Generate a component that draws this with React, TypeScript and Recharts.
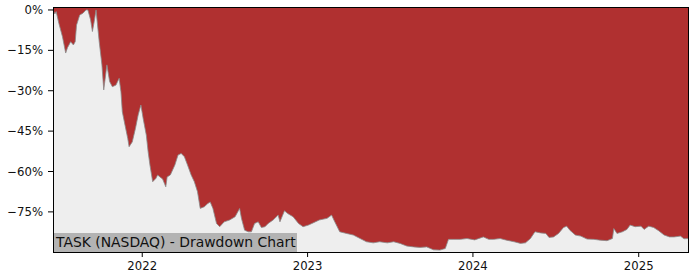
import React from 'react';
import { AreaChart, Area, XAxis, YAxis, CartesianGrid } from 'recharts';

// TASK (NASDAQ) drawdown
const dates = [
  '2021-06-18', '2021-06-22', '2021-06-25', '2021-07-01', '2021-07-09', '2021-07-16', '2021-07-20', '2021-07-27',
  '2021-08-02', '2021-08-06', '2021-08-09', '2021-08-16', '2021-08-23', '2021-08-30', '2021-09-03', '2021-09-09',
  '2021-09-13', '2021-09-17', '2021-09-21', '2021-09-28', '2021-10-04', '2021-10-08', '2021-10-13', '2021-10-15',
  '2021-10-21', '2021-10-27', '2021-11-04', '2021-11-11', '2021-11-15', '2021-11-18', '2021-11-24', '2021-11-30',
  '2021-12-03', '2021-12-10', '2021-12-17', '2021-12-23', '2021-12-29', '2022-01-03', '2022-01-10', '2022-01-14',
  '2022-01-18', '2022-01-24', '2022-01-31', '2022-02-04', '2022-02-09', '2022-02-15', '2022-02-22', '2022-02-25',
  '2022-03-04', '2022-03-14', '2022-03-21', '2022-03-28', '2022-04-04', '2022-04-11', '2022-04-19', '2022-04-26',
  '2022-05-03', '2022-05-09', '2022-05-18', '2022-05-25', '2022-05-31', '2022-06-06', '2022-06-14', '2022-06-21',
  '2022-07-01', '2022-07-13', '2022-07-25', '2022-08-04', '2022-08-08', '2022-08-15', '2022-08-23', '2022-08-30',
  '2022-09-06', '2022-09-14', '2022-09-21', '2022-09-29', '2022-10-06', '2022-10-17', '2022-10-28', '2022-11-01',
  '2022-11-11', '2022-11-18', '2022-11-30', '2022-12-12', '2022-12-22', '2023-01-03', '2023-01-13', '2023-01-27',
  '2023-02-13', '2023-02-23', '2023-03-02', '2023-03-13', '2023-03-28', '2023-04-12', '2023-04-27', '2023-05-11',
  '2023-05-26', '2023-06-09', '2023-06-26', '2023-07-10', '2023-07-24', '2023-08-08', '2023-08-23', '2023-09-06',
  '2023-09-21', '2023-10-06', '2023-10-20', '2023-11-01', '2023-11-08', '2023-11-20', '2023-12-04', '2023-12-19',
  '2024-01-05', '2024-01-24', '2024-02-05', '2024-02-16', '2024-03-01', '2024-03-15', '2024-04-01', '2024-04-15',
  '2024-04-26', '2024-05-07', '2024-05-17', '2024-05-29', '2024-06-10', '2024-06-17', '2024-06-27', '2024-07-08',
  '2024-07-19', '2024-07-26', '2024-08-02', '2024-08-14', '2024-08-26', '2024-09-09', '2024-09-24', '2024-10-08',
  '2024-10-23', '2024-11-04', '2024-11-07', '2024-11-14', '2024-11-26', '2024-12-06', '2024-12-13', '2024-12-24',
  '2025-01-06', '2025-01-13', '2025-01-23', '2025-02-03', '2025-02-14', '2025-02-26', '2025-03-10', '2025-03-20',
  '2025-04-03', '2025-04-11', '2025-04-22',
];

const drawdown = [
  0, -1.5, -0.6, -5, -10, -16, -14, -11.8,
  -13, -11.8, -5.6, -1.9, -1.2, 0, 0, -3.7,
  -8, -4.3, 0, -11.8, -20.4, -29.7, -23, -20.4,
  -26.6, -28.5, -27.9, -25.4, -30.4, -37.8, -42.8, -47.7,
  -50.8, -49, -44, -39, -35.3, -40.3, -46.5, -52.7,
  -57.6, -63.8, -62.6, -61.3, -62, -62.8, -65.7, -62,
  -61.3, -57.6, -53.9, -53.3, -54.5, -57.6, -61.3, -63.8,
  -67.5, -73.7, -73.1, -72, -71.3, -73.7, -79.3, -80.5,
  -78.7, -78, -76.8, -73.7, -77.4, -81.8, -82.4, -82.4,
  -79.3, -78.7, -80.8, -80.5, -79.3, -78, -76.2, -78.7,
  -74.6, -75.6, -76.8, -79.3, -80.5, -79.9, -79.1, -78,
  -77.4, -76.2, -78.7, -82.4, -83, -83.6, -84.9, -86.1,
  -86.5, -86.1, -86.5, -86.1, -86.7, -87.7, -88, -88.2,
  -88, -89.1, -89.2, -88.6, -85.2, -85.2, -85.2, -84.9,
  -85.4, -84.3, -85.2, -85.2, -84.9, -85.5, -86.1, -86.7,
  -86.5, -84.9, -82.4, -82.8, -83, -84.5, -84.3, -83,
  -80.8, -80.3, -81.8, -83.6, -84, -85.1, -85.2, -85.5,
  -85.7, -84.9, -81.2, -83, -82.4, -81.5, -79.9, -80.5,
  -80.3, -81.5, -80.3, -80.8, -82, -83.6, -84.3, -84.3,
  -84, -85, -84.9,
];

const yTicks = [0, -15, -30, -45, -60, -75];
const yearTicks = ['2022-01-01', '2023-01-01', '2024-01-01', '2025-01-01'];
const title = 'TASK (NASDAQ) - Drawdown Chart';

const toTime = (s: string) => {
  const [y, m, d] = s.split('-').map(Number);
  return Date.UTC(y, m - 1, d);
};

const data = dates.map((d, i) => ({ t: toTime(d), dd: drawdown[i] }));

const FONT = '"DejaVu Sans", sans-serif';
const tickStyle = { fontSize: 11.7, fill: '#111', fontFamily: FONT };

export default function App() {
  return (
    <div style={{ position: 'absolute', left: 0, top: 0, width: 700, height: 280, background: '#fff' }}>
      <AreaChart width={700} height={280} data={data} margin={{ top: 7, right: 11, bottom: 0, left: 8 }}>
        <CartesianGrid horizontal={false} vertical={false} fill="#eeeeee" stroke="none" />
        <XAxis
          dataKey="t"
          type="number"
          scale="time"
          domain={['dataMin', 'dataMax']}
          ticks={yearTicks.map(toTime)}
          tickFormatter={(v: number) => String(new Date(v).getUTCFullYear())}
          height={28}
          tickSize={5}
          tickMargin={5}
          axisLine={false}
          tickLine={{ stroke: '#000' }}
          tick={tickStyle}
        />
        <YAxis
          type="number"
          domain={[-89.9, 1.1]}
          ticks={yTicks}
          allowDataOverflow
          tickFormatter={(v: number) => (v === 0 ? '0%' : `\u2212${Math.abs(v)}%`)}
          width={45}
          tickSize={5}
          tickMargin={5}
          axisLine={false}
          tickLine={{ stroke: '#000' }}
          tick={tickStyle}
        />
        <Area
          type="linear"
          dataKey="dd"
          baseValue="dataMax"
          fill="#b03030"
          fillOpacity={1}
          stroke="#8a8a8a"
          strokeWidth={0.8}
          isAnimationActive={false}
        />
      </AreaChart>
      <div
        style={{
          position: 'absolute', left: 53, top: 233, width: 244, height: 19,
          background: '#b3b3b3', fontFamily: FONT, fontSize: 13.9, lineHeight: '19px',
          paddingLeft: 3, boxSizing: 'border-box', color: '#111', whiteSpace: 'nowrap',
        }}
      >
        {title}
      </div>
      <div
        style={{
          position: 'absolute', left: 53, top: 7, width: 636, height: 246,
          border: '1px solid #000', boxSizing: 'border-box', pointerEvents: 'none',
        }}
      />
    </div>
  );
}
